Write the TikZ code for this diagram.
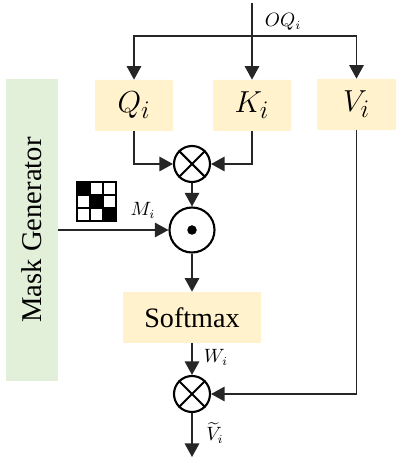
\documentclass[tikz,border=0pt]{standalone}
\usepackage{amsmath}
\usepackage{fontspec}
\setmainfont{Liberation Serif}
\usepackage{tikz}
\usetikzlibrary{calc,positioning,arrows.meta}
\definecolor{boxc}{RGB}{255,242,204}
\definecolor{maskc}{RGB}{226,240,217}
\tikzset{
  keyb/.style={rectangle,fill=boxc,rounded corners=0.5pt,minimum width=1.56cm,minimum height=1.02cm,inner sep=0pt,font=\fontsize{19}{19}\selectfont},
  opn/.style={circle,draw=black,line width=1.2pt,fill=white,minimum size=7.2mm,inner sep=0pt},
  lab/.style={font=\fontsize{10.5}{10.5}\selectfont,inner sep=0pt},
  dep/.style={-{Triangle[length=2.7mm,width=2.9mm]},line width=0.75pt,black!85},
  cellw/.style={rectangle,draw=black,fill=white,line width=1.3pt,minimum size=2.62mm,inner sep=0pt},
  cellb/.style={cellw,fill=black},
}
\begin{document}
\begin{tikzpicture}
  \useasboundingbox (0,0) rectangle (8.04,9.36);
  % ---- query, key and value boxes ----
  \node[keyb] (Q) at (2.68,7.25) {$Q_i$};
  \node[keyb] (K) at (5.04,7.25) {$K_i$};
  \node[keyb,minimum width=1.58cm] (V) at (7.13,7.27) {$V_i$};
  \node[keyb,minimum width=2.76cm,font=\fontsize{16}{16}\selectfont] (soft) at (3.84,3.01) {Softmax};
  \node[rectangle,fill=maskc,inner sep=0pt,rotate=90,
    font=\fontsize{16.3}{16.3}\selectfont,minimum width=6.04cm,minimum height=1.04cm] (mask) at (0.64,4.76) {Mask Generator};
  % ---- operators ----
  \node[opn] (mul1) at (3.84,6.08) {};
  \draw[line width=1.2pt] (mul1.north west)--(mul1.south east) (mul1.north east)--(mul1.south west);
  \node[opn,minimum size=9mm] (hada) at (3.84,4.76) {};
  \node[circle,fill=black,minimum size=1.9mm,inner sep=0pt] (hdot) at (hada) {};
  \node[opn] (mul2) at (3.84,1.48) {};
  \draw[line width=1.2pt] (mul2.north west)--(mul2.south east) (mul2.north east)--(mul2.south west);
  % ---- the input and its branches ----
  \coordinate (top) at (5.04,9.30);
  \coordinate (split) at (5.04,8.64);
  \coordinate (out) at (3.84,0.22);
  \draw[dep] (top)--(K);
  \draw[dep] (split)-|(Q);
  \draw[dep] (split)-|(V);
  % ---- into and out of the operators ----
  \draw[dep] (Q)|-(mul1);
  \draw[dep] (K)|-(mul1);
  \draw[dep] (mul1)--(hada);
  \draw[dep] (mask.south|-hada)--(hada);
  \draw[dep] (hada)--(soft);
  \draw[dep] (soft)--(mul2);
  \draw[dep] (V.south)|-(mul2);
  \draw[dep] (mul2)--(out);
  % ---- labels ----
  \node[lab] (lOQ) at (5.66,8.92) {$OQ_i$};
  \node[lab] (lM) at (2.86,5.16) {$M_i$};
  \node[lab] (lW) at (4.32,2.22) {$W_i$};
  \node[lab] (lV) at (4.30,0.70) {$\widetilde{V}_i$};
  % ---- the mask pattern ----
  \foreach \r in {0,1,2}
    \foreach \c in {0,1,2}
      \node[cellw] (c\r\c) at ({1.668+\c*0.262},{5.592-\r*0.262}) {};
  \foreach \k in {0,1,2}
    \node[cellb] (d\k) at ({1.668+\k*0.262},{5.592-\k*0.262}) {};
\end{tikzpicture}
\end{document}
